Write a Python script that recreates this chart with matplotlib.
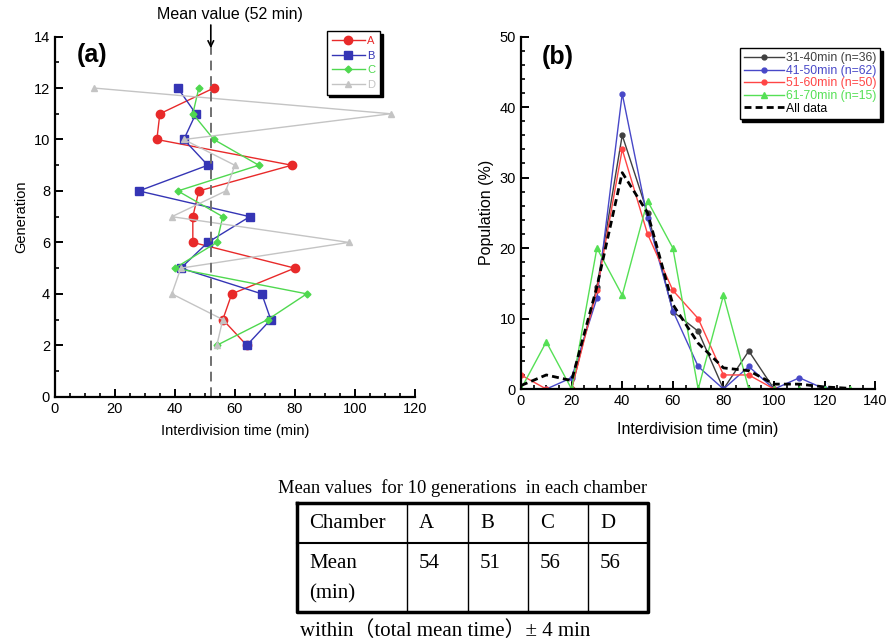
import numpy as np
import matplotlib
matplotlib.use("Agg")
import matplotlib.pyplot as plt
from matplotlib.ticker import MultipleLocator

plt.rcParams['font.family'] = ['Liberation Sans', 'DejaVu Sans']

# --- panel (a): interdivision time per generation, chambers A-D ---
gen_a = [2, 3, 4, 5, 6, 7, 8, 9, 10, 11, 12]
time_a = [64, 56, 59, 80, 46, 46, 48, 79, 34, 35, 53]
gen_b = [2, 3, 4, 5, 6, 7, 8, 9, 10, 11, 12]
time_b = [64, 72, 69, 42, 51, 65, 28, 51, 43, 47, 41]
gen_c = [2, 3, 4, 5, 6, 7, 8, 9, 10, 11, 12]
time_c = [54, 71, 84, 40, 54, 56, 41, 68, 53, 46, 48]
gen_d = [2, 3, 4, 5, 6, 7, 8, 9, 10, 11, 12]
time_d = [54, 56, 39, 42, 98, 39, 57, 60, 43, 112, 13]
mean_time = 52

# --- panel (b): population histograms ---
bins_b = [0, 10, 20, 30, 40, 50, 60, 70, 80, 90, 100, 110, 120, 130]
pop_31_40 = [np.nan, np.nan, 0, 14.5, 36, 25, 11, 8.2, 0, 5.4, 0, np.nan, np.nan, np.nan]
pop_41_50 = [np.nan, 0, 1.6, 12.9, 41.9, 24.2, 11.1, 3.2, 0, 3.2, 0, 1.6, 0, np.nan]
pop_51_60 = [2, 0, 0, 14, 34, 22, 14, 10, 2, 2, 0, np.nan, np.nan, np.nan]
pop_61_70 = [0, 6.7, 0, 20, 13.3, 26.7, 20, 0, 13.3, 0, 0, 0, 0, 0]
pop_all = [0.5, 2, 1.2, 14.5, 30.7, 25, 12, 6.5, 3, 2.6, 0.7, 0.7, 0.3, 0.1]

# --- table ---
chambers = ['A', 'B', 'C', 'D']
chamber_means = [54, 51, 56, 56]

fig = plt.figure(figsize=(8.86, 6.42), dpi=100)


def style_axes(ax):
    for s in ['top', 'right']:
        ax.spines[s].set_visible(False)
    for s in ['left', 'bottom']:
        ax.spines[s].set_linewidth(1.6)
    ax.tick_params(which='major', direction='in', length=6, width=1.4, labelsize=10.5)
    ax.tick_params(which='minor', direction='in', length=3, width=1.2)


# panel (a)
ax1 = fig.add_axes([0.062, 0.382, 0.406, 0.561])
ax1.plot(time_a, gen_a, color='#e82a2a', marker='o', ms=6, lw=1, label='A')
ax1.plot(time_b, gen_b, color='#3535b5', marker='s', ms=6, lw=1, label='B')
ax1.plot(time_c, gen_c, color='#4fd84f', marker='D', ms=3.5, lw=1, label='C')
ax1.plot(time_d, gen_d, color='#c4c4c4', marker='^', ms=4.5, lw=1, label='D')
ax1.plot([mean_time, mean_time], [0, 13.7], color='#707070', ls=(0, (5, 3)), lw=1.4)
ax1.set_xlim(0, 120)
ax1.set_ylim(0, 14)
ax1.xaxis.set_major_locator(MultipleLocator(20))
ax1.xaxis.set_minor_locator(MultipleLocator(5))
ax1.yaxis.set_major_locator(MultipleLocator(2))
ax1.yaxis.set_minor_locator(MultipleLocator(1))
style_axes(ax1)
ax1.set_xlabel('Interdivision time (min)', fontsize=10.5, labelpad=6)
ax1.set_ylabel('Generation', fontsize=10.5)
ax1.text(0.06, 0.949, '(a)', transform=ax1.transAxes, fontsize=18, fontweight='bold', va='center')
ax1.annotate('', xy=(mean_time, 13.55), xytext=(mean_time, 14.45), annotation_clip=False,
             arrowprops=dict(arrowstyle='->', color='black', lw=1.2, shrinkA=0, shrinkB=0))
ax1.text(58.5, 14.85, 'Mean value (52 min)', ha='center', va='center', fontsize=11.5, clip_on=False)
leg1 = ax1.legend(loc='upper left', bbox_to_anchor=(0.74, 1.03), fontsize=8,
                  labelcolor='linecolor', handlelength=3, fancybox=False,
                  borderpad=0.45, labelspacing=0.4, handletextpad=0.2,
                  shadow={'color': 'black', 'alpha': 1.0})
leg1.get_frame().set_edgecolor('black')
leg1.get_frame().set_linewidth(1)

# panel (b)
ax2 = fig.add_axes([0.588, 0.394, 0.400, 0.549])
ax2.plot(bins_b, pop_31_40, color='#404040', marker='o', ms=3.5, lw=1, label='31-40min (n=36)')
ax2.plot(bins_b, pop_41_50, color='#4848c8', marker='o', ms=3.5, lw=1, label='41-50min (n=62)')
ax2.plot(bins_b, pop_51_60, color='#ff4545', marker='o', ms=3.5, lw=1, label='51-60min (n=50)')
ax2.plot(bins_b, pop_61_70, color='#55e055', marker='^', ms=4.5, lw=1, label='61-70min (n=15)')
ax2.plot(bins_b, pop_all, color='black', ls=(0, (2.5, 1.5)), lw=2, label='All data')
ax2.set_xlim(0, 140)
ax2.set_ylim(0, 50)
ax2.xaxis.set_major_locator(MultipleLocator(20))
ax2.xaxis.set_minor_locator(MultipleLocator(5))
ax2.yaxis.set_major_locator(MultipleLocator(10))
ax2.yaxis.set_minor_locator(MultipleLocator(2))
style_axes(ax2)
ax2.set_xlabel('Interdivision time (min)', fontsize=11.5, labelpad=10)
ax2.set_ylabel('Population (%)', fontsize=11.5)
ax2.text(0.06, 0.942, '(b)', transform=ax2.transAxes, fontsize=18, fontweight='bold', va='center')
leg2 = ax2.legend(loc='upper left', bbox_to_anchor=(0.6, 0.985), fontsize=8.8,
                  labelcolor='linecolor', handlelength=3.3, fancybox=False,
                  borderpad=0.35, labelspacing=0.05, handletextpad=0.1,
                  shadow={'color': 'black', 'alpha': 1.0})
leg2.get_frame().set_edgecolor('black')
leg2.get_frame().set_linewidth(1)
for t in leg2.get_texts():
    if t.get_text() == 'All data':
        t.set_color('black')

# table drawn in pixel coordinates
axt = fig.add_axes([0, 0, 1, 1])
axt.set_xlim(0, 886)
axt.set_ylim(642, 0)
axt.axis('off')
serif = ['Liberation Serif', 'Noto Sans CJK JP', 'DejaVu Serif']
axt.text(463, 488, 'Mean values  for 10 generations  in each chamber', ha='center', va='center',
         fontsize=13.3, family=serif)
col_x = [297, 407, 468, 528, 588, 648]
row_y = [503, 543, 612]
for x in col_x[1:-1]:
    axt.plot([x, x], [row_y[0], row_y[-1]], color='black', lw=1)
axt.plot([col_x[0], col_x[-1]], [row_y[1], row_y[1]], color='black', lw=1.5)
axt.plot([col_x[0], col_x[-1], col_x[-1], col_x[0], col_x[0]],
         [row_y[0], row_y[0], row_y[-1], row_y[-1], row_y[0]], color='black', lw=2.5)
axt.text(col_x[0] + 12, 523, 'Chamber', va='center', fontsize=15, family=serif)
axt.text(col_x[0] + 12, 563, 'Mean', va='center', fontsize=15, family=serif)
axt.text(col_x[0] + 12, 594, '(min)', va='center', fontsize=15, family=serif)
for i, (c, m) in enumerate(zip(chambers, chamber_means)):
    axt.text(col_x[i + 1] + 12, 523, c, va='center', fontsize=15, family=serif)
    axt.text(col_x[i + 1] + 12, 563, str(m), va='center', fontsize=15, family=serif)
axt.text(300, 631, 'within（total mean time）± 4 min', va='center', fontsize=15, family=serif)

fig.savefig('out.png', dpi=100)
